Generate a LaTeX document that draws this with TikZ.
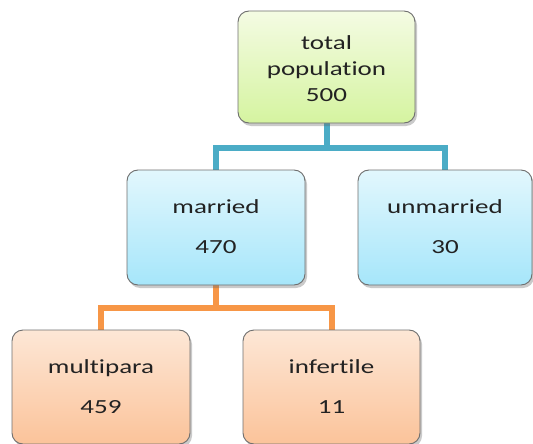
\documentclass[tikz,border=0pt]{standalone}
\usepackage{fontspec}
\newfontfamily\dfont[FakeStretch=1.35,RawFeature={-liga;-clig;-dlig}]{Carlito}
\usetikzlibrary{shadows,backgrounds}
\definecolor{bordergray}{HTML}{6E6E6E}
\definecolor{txtgray}{HTML}{222222}
\definecolor{bline}{HTML}{4BACC6}
\definecolor{oline}{HTML}{F79646}
\definecolor{gtop}{HTML}{F4FBE3}
\definecolor{gbot}{HTML}{D5F4A0}
\definecolor{btop}{HTML}{E2F7FD}
\definecolor{bbot}{HTML}{A6E6FA}
\definecolor{otop}{HTML}{FDE7D6}
\definecolor{obot}{HTML}{FBC39A}
\tikzset{
  box/.style={draw=bordergray, line width=0.9pt, rounded corners=11pt, inner sep=0pt,
    drop shadow={shadow xshift=2pt, shadow yshift=-3pt, opacity=0.35, fill=black!60}},
  gbox/.style={box, top color=gtop, bottom color=gbot},
  bbox/.style={box, top color=btop, bottom color=bbot},
  obox/.style={box, top color=otop, bottom color=obot},
  lbl/.style={anchor=base, inner sep=0pt, text=txtgray, font=\dfont\fontsize{20}{24}\selectfont},
  bconn/.style={draw=bline, line width=6pt},
  oconn/.style={draw=oline, line width=6pt},
}
\begin{document}
\begin{tikzpicture}[x=1pt,y=-1pt]
\useasboundingbox (0,0) rectangle (533,444);
\node[gbox, minimum width=177pt, minimum height=112pt] (top) at (326.5,67) {};
\node[bbox, minimum width=178pt, minimum height=115pt] (married) at (216,227.5) {};
\node[bbox, minimum width=174pt, minimum height=115pt] (unmarried) at (445,227.5) {};
\node[obox, minimum width=178pt, minimum height=114pt] (multipara) at (101,387) {};
\node[obox, minimum width=177pt, minimum height=114pt] (infertile) at (331.5,387) {};
\coordinate (bj) at (326.5,148);
\coordinate (oj) at (216,308);
\begin{scope}[on background layer]
\draw[bconn] (top.south) -- (bj) -| (married.north);
\draw[bconn] (bj) -| (unmarried.north);
\draw[oconn] (married.south) -- (oj) -| (multipara.north);
\draw[oconn] (oj) -| (infertile.north);
\end{scope}
\node[lbl] (t1) at (326.5,50) {total};
\node[lbl] (t2) at (326.5,75) {population};
\node[lbl] (t3) at (326.5,101) {500};
\node[lbl] (m1) at (216,213) {married};
\node[lbl] (m2) at (216,253) {470};
\node[lbl] (u1) at (445,213) {unmarried};
\node[lbl] (u2) at (445,253) {30};
\node[lbl] (p1) at (101,373) {multipara};
\node[lbl] (p2) at (101,413) {459};
\node[lbl] (i1) at (331.5,373) {infertile};
\node[lbl] (i2) at (331.5,413) {11};
\end{tikzpicture}
\end{document}
